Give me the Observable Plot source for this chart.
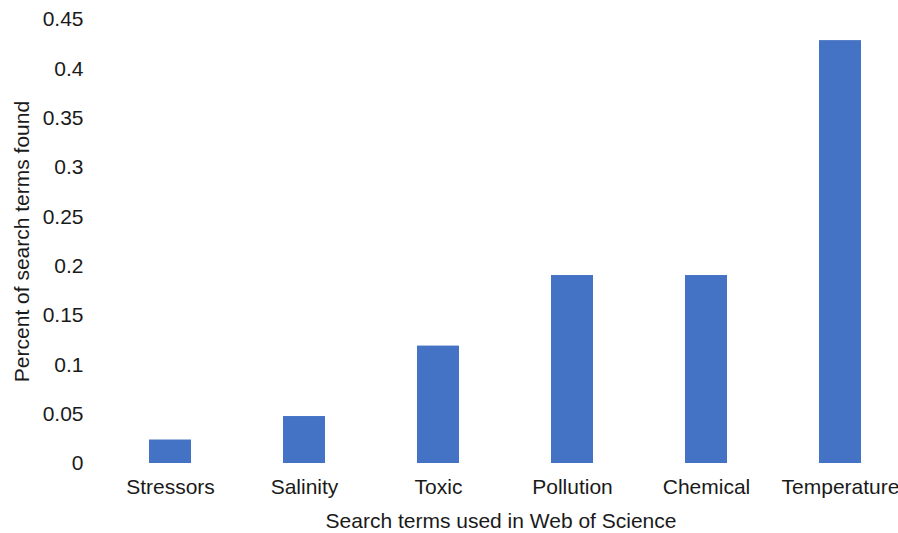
<!DOCTYPE html>
<html>
<head>
<meta charset="utf-8">
<script src="https://cdn.jsdelivr.net/npm/d3@7"></script>
<script src="https://cdn.jsdelivr.net/npm/@observablehq/plot@0.6"></script>
<style>
  html, body { margin: 0; padding: 0; background: #fff; }
  svg { display: block; }
</style>
</head>
<body>
<div id="chart"></div>
<script>
const categories = ["Stressors", "Salinity", "Toxic", "Pollution", "Chemical", "Temperature"];
const values = [0.0238, 0.0476, 0.119, 0.1905, 0.1905, 0.4286];
const yTicks = [0, 0.05, 0.1, 0.15, 0.2, 0.25, 0.3, 0.35, 0.4, 0.45];

const data = categories.map((c, i) => ({term: c, value: values[i]}));

const chart = Plot.plot({
  width: 898,
  height: 533,
  marginTop: 19,
  marginBottom: 70,
  marginLeft: 103,
  marginRight: 0,
  style: {fontFamily: "'Liberation Sans', Arial, sans-serif", fontSize: "21px", color: "#1a1a1a", background: "#fff"},
  x: {domain: categories, range: [103, 907], paddingInner: 0.687, paddingOuter: 0.3435, align: 0.5},
  y: {domain: [0, 0.45], range: [463, 19]},
  marks: [
    Plot.barY(data, {x: "term", y: "value", fill: "#4472C4"}),
    Plot.ruleY([0], {stroke: "#d9d9d9", strokeWidth: 2, x1: 0, x2: 1, clip: false}),
    Plot.axisY({ticks: yTicks, tickSize: 0, tickPadding: 20, tickFormat: d => String(+d.toFixed(2)),
      fontSize: 21, label: null}),
    Plot.axisX({tickSize: 0, tickPadding: 16, fontSize: 21, label: null}),
    Plot.text(["Percent of search terms found"], {frameAnchor: "left", textAnchor: "middle", dx: -81, rotate: -90, fontSize: 21, fill: "#1a1a1a"}),
    Plot.text(["Search terms used in Web of Science"], {frameAnchor: "bottom", dy: 64, fontSize: 21, fill: "#1a1a1a"})
  ]
});
document.getElementById("chart").appendChild(chart);
</script>
</body>
</html>
